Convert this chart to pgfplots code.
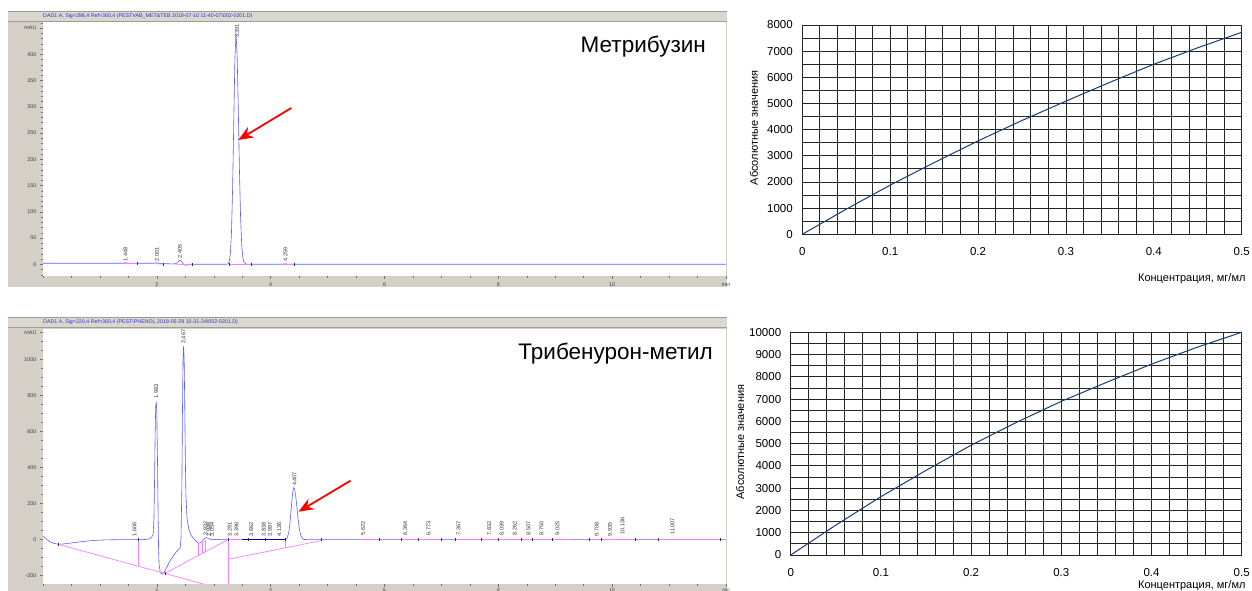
\documentclass[border=0pt]{standalone}
\usepackage{pgfplots}
\pgfplotsset{compat=1.18}
\usepackage{fontspec}
\setmainfont{Liberation Sans}
\usetikzlibrary{arrows.meta}
\definecolor{panel}{RGB}{212,208,200}
\definecolor{hdr}{RGB}{218,215,208}
\definecolor{hdrline}{RGB}{160,156,148}
\definecolor{trace}{RGB}{95,95,255}
\definecolor{integ}{RGB}{255,125,255}
\definecolor{hdrtext}{RGB}{50,50,210}
\definecolor{navyline}{RGB}{25,60,115}
\tikzset{lbl/.style={rotate=90, anchor=west, font=\fontsize{5.5}{6}\selectfont, inner sep=0.5pt, text=black!80}}
\pgfplotsset{
  chrom/.style={scale only axis, anchor=south west, xmin=0, xmax=12,
    axis background/.style={fill=white},
    axis line style={draw=none},
    tick align=outside, tick pos=left,
    major tick length=3pt, minor tick length=1.8pt,
    tick style={black!55, line width=0.5pt},
    xtick={2,4,6,8,10,12}, xticklabels={2,4,6,8,10,min},
    minor xtick={0,0.5,...,12},
    ticklabel style={font=\fontsize{5.4}{6}\selectfont, text=black!75},
    clip mode=individual},
  calib/.style={scale only axis, anchor=south west, xmin=0, xmax=0.5, ymin=0,
    scaled ticks=false,
    xtick={0,0.1,0.2,0.3,0.4,0.5}, xticklabels={0,0.1,0.2,0.3,0.4,0.5},
    minor x tick num=4, minor y tick num=1,
    grid=both, major grid style={black!85, line width=0.9pt},
    minor grid style={black!85, line width=0.9pt},
    major tick length=0pt, minor tick length=0pt,
    axis line style={black!85, line width=0.9pt},
    ticklabel style={font=\fontsize{11.5}{13}\selectfont},
    yticklabel style={xshift=-6pt},
    /pgf/number format/assume math mode=true,
    /pgf/number format/set thousands separator={},
    /pgf/number format/fixed,
    label style={font=\fontsize{11}{13}\selectfont},
    ylabel={Абсолютные значения}, xlabel={Концентрация, мг/мл}},
}
\begin{document}
\begin{tikzpicture}[x=1pt,y=1pt]
\useasboundingbox (0,0) rectangle (1252,591);
% ---------- top chromatogram panel ----------
\fill[panel] (8,304) rectangle (727,580);
\fill[hdr] (8,569) rectangle (727,580);
\draw[hdrline,line width=0.8pt] (8,569.4) -- (727,569.4);
\draw[hdrline,line width=0.8pt] (8,579.6) -- (727,579.6);
\node[anchor=west, text=hdrtext, font=\fontsize{5.3}{6}\selectfont, inner sep=0] at (43,574.5)
  {DAD1 A, Sig=298,4 Ref=360,4 (PESTVAB\_MET\&TEB 2019-07-10 11-40-07\textbackslash 002-0201.D)};
\begin{axis}[chrom, at={(43pt,315pt)}, width=683pt, height=254pt, ymin=-22.3, ymax=461.5,
  ytick={0,50,100,150,200,250,300,350,400,450},
  yticklabels={0,50,100,150,200,250,300,350,400,mAU},
  minor ytick={-20,-10,...,460}]
\addplot[trace, line width=0.6pt] coordinates {
(0,2) (0.5,2) (1.0,2) (1.40,2) (1.45,3) (1.50,2) (1.95,2) (2.0,3) (2.05,1.5) (2.2,1) (2.3,0.5)
(2.35,2) (2.38,6) (2.405,8) (2.43,6) (2.46,1) (2.5,-2) (2.53,-1) (2.56,0) (3.2,0)
(3.251,0.5) (3.271,4.9) (3.291,19.3) (3.311,59.5) (3.331,143) (3.351,267) (3.371,388) (3.391,440)
(3.411,399) (3.431,296) (3.451,181) (3.471,91) (3.491,37) (3.511,12.5) (3.531,3.5) (3.571,0.3)
(3.6,0) (4.2,0) (4.26,1) (4.3,0) (12,0)};
\addplot[integ, line width=0.7pt] coordinates {(1.41,1.5) (1.65,1.5)};
\addplot[integ, line width=0.7pt] coordinates {(1.97,1) (2.12,0.5)};
\addplot[integ, line width=0.7pt] coordinates {(2.33,0) (2.62,-1)};
\addplot[integ, line width=0.7pt] coordinates {(3.28,0) (3.66,0)};
\addplot[integ, line width=0.7pt] coordinates {(4.18,0.5) (4.42,0.5)};
\addplot[only marks, mark=|, mark size=1.5pt, black!80, mark options={line width=0.4pt}] coordinates {
(1.65,1.5) (2.12,0.5) (2.62,-1) (3.28,0) (3.66,0) (4.42,0)};
\node[lbl] at (axis cs:1.448,4) {1.448};
\node[lbl] at (axis cs:2.001,4) {2.001};
\node[lbl] at (axis cs:2.405,10) {2.405};
\node[lbl] at (axis cs:3.41,430) {3.391};
\node[lbl] at (axis cs:4.259,4) {4.259};
\draw[red, line width=1.8pt, -{Stealth[length=15pt,width=12pt]}] (axis cs:4.363,297.7) -- (axis cs:3.43,236.8);
\end{axis}
\node[anchor=base east, font=\fontsize{22.5}{24}\selectfont, inner sep=0] at (706,538.7) {Метрибузин};
% ---------- bottom chromatogram panel ----------
\fill[panel] (8,-5) rectangle (727,274);
\fill[hdr] (8,263) rectangle (727,274);
\draw[hdrline,line width=0.8pt] (8,263.4) -- (727,263.4);
\draw[hdrline,line width=0.8pt] (8,273.6) -- (727,273.6);
\node[anchor=west, text=hdrtext, font=\fontsize{5.3}{6}\selectfont, inner sep=0] at (43,268.5)
  {DAD1 A, Sig=220,4 Ref=360,4 (PEST\textbackslash PHENOL 2018-05-29 10-31-24\textbackslash 002-0201.D)};
\begin{axis}[chrom, at={(43pt,7pt)}, width=683pt, height=255pt, ymin=-246, ymax=1170,
  ytick={-200,0,200,400,600,800,1000,1150},
  yticklabels={-200,0,200,400,600,800,1000,mAU},
  minor ytick={-250,-200,...,1150},
  xticklabel style={yshift=2.6pt, font=\fontsize{4.6}{5}\selectfont}]
\addplot[trace, line width=0.6pt] coordinates {
(0,20) (0.05,6) (0.1,-7) (0.15,-16) (0.2,-21) (0.27,-25) (0.35,-24) (0.5,-18) (0.7,-10) (0.9,-4)
(1.1,-1) (1.3,0) (1.6,0) (1.8,1) (1.87,5) (1.91,15) (1.935,30) (1.95,120) (1.96,330) (1.97,580)
(1.98,740) (1.99,767) (2.0,700) (2.01,480) (2.02,200) (2.03,-40) (2.04,-140) (2.06,-182) (2.09,-192)
(2.13,-180) (2.18,-150) (2.23,-118) (2.28,-95) (2.33,-72) (2.38,-55) (2.41,-45) (2.425,10) (2.44,300)
(2.45,700) (2.46,1000) (2.47,1075) (2.48,1000) (2.49,760) (2.5,470) (2.51,260) (2.53,120) (2.56,60)
(2.6,25) (2.65,5) (2.7,-12) (2.74,-20) (2.79,-12) (2.83,5) (2.87,12) (2.92,4) (2.97,0) (3.05,2)
(3.1,0) (3.3,0) (3.4,1) (3.5,0) (4.25,0) (4.257,1) (4.287,8) (4.317,39) (4.332,72) (4.347,119)
(4.362,176) (4.377,232) (4.392,274) (4.407,290) (4.422,279) (4.437,250) (4.452,208) (4.467,160)
(4.482,114) (4.497,76) (4.512,47) (4.527,27) (4.557,7) (4.587,1.4) (4.65,0) (5.6,0) (5.62,2) (5.65,0)
(9.9,0) (9.93,3) (9.96,0) (10.12,0) (10.14,2) (10.16,0) (12,0)};
\addplot[integ, line width=0.7pt] coordinates {(0.27,-25.6) (2.84,-248)};
\addplot[integ, line width=0.7pt] coordinates {(1.67,0) (1.67,-146.8)};
\addplot[integ, line width=0.7pt] coordinates {(2.14,-187) (3.25,0)};
\addplot[integ, line width=0.7pt] coordinates {(2.727,-18) (2.727,-88)};
\addplot[integ, line width=0.7pt] coordinates {(2.80,0) (2.80,-76)};
\addplot[integ, line width=0.7pt] coordinates {(2.86,0) (2.86,-66)};
\addplot[integ, line width=0.7pt] coordinates {(3.25,0) (3.25,-250)};
\addplot[integ, line width=0.7pt] coordinates {(3.25,-109) (4.89,-5)};
\addplot[integ, line width=0.7pt] coordinates {(4.25,0) (4.25,-45.6)};
\addplot[integ, line width=0.7pt] coordinates {(3.25,0) (3.5,0)};
\addplot[blue!75!black, line width=0.9pt] coordinates {(3.5,0) (4.25,0)};
\addplot[integ, line width=0.7pt] coordinates {(5.55,0) (5.9,0)};
\addplot[integ, line width=0.7pt] coordinates {(6.3,0) (7.0,0)};
\addplot[integ, line width=0.7pt] coordinates {(7.25,0) (9.3,0)};
\addplot[integ, line width=0.7pt] coordinates {(9.6,0) (10.4,0)};
\addplot[integ, line width=0.7pt] coordinates {(10.8,0) (11.9,0)};
\addplot[only marks, mark=|, mark size=1.5pt, black!80, mark options={line width=0.4pt}] coordinates {
(0.27,-25) (1.67,0) (2.14,-187) (3.25,0) (3.6,0) (3.9,0) (4.25,0) (4.89,0) (5.9,0) (6.3,0) (6.6,0)
(7.0,0) (7.25,0) (7.7,0) (8.0,0) (8.4,0) (8.6,0) (8.95,0) (9.6,0) (9.8,0) (10.4,0) (10.8,0) (11.9,0)};
\node[lbl] at (axis cs:1.606,15) {1.606};
\node[lbl] at (axis cs:1.99,780) {1.983};
\node[lbl] at (axis cs:2.467,1085) {2.467};
\node[lbl] at (axis cs:2.855,20) {2.832};
\node[lbl] at (axis cs:2.91,15) {2.946};
\node[lbl] at (axis cs:2.97,15) {3.054};
\node[lbl] at (axis cs:3.28,15) {3.291};
\node[lbl] at (axis cs:3.40,15) {3.396};
\node[lbl] at (axis cs:3.66,15) {3.662};
\node[lbl] at (axis cs:3.88,15) {3.838};
\node[lbl] at (axis cs:3.99,15) {3.987};
\node[lbl] at (axis cs:4.15,15) {4.136};
\node[lbl] at (axis cs:4.42,295) {4.407};
\node[lbl] at (axis cs:5.622,20) {5.622};
\node[lbl] at (axis cs:6.364,20) {6.364};
\node[lbl] at (axis cs:6.773,20) {6.773};
\node[lbl] at (axis cs:7.30,20) {7.367};
\node[lbl] at (axis cs:7.84,20) {7.832};
\node[lbl] at (axis cs:8.06,20) {8.039};
\node[lbl] at (axis cs:8.29,20) {8.262};
\node[lbl] at (axis cs:8.53,20) {8.507};
\node[lbl] at (axis cs:8.76,20) {8.750};
\node[lbl] at (axis cs:9.04,20) {9.025};
\node[lbl] at (axis cs:9.73,15) {9.708};
\node[lbl] at (axis cs:9.96,15) {9.935};
\node[lbl] at (axis cs:10.18,25) {10.136};
\node[lbl] at (axis cs:11.06,25) {11.007};
\draw[red, line width=1.8pt, -{Stealth[length=15pt,width=12pt]}] (axis cs:5.404,327.8) -- (axis cs:4.49,155.6);
\end{axis}
\node[anchor=base east, font=\fontsize{22.5}{24}\selectfont, inner sep=0] at (713,231) {Трибенурон-метил};
% ---------- top calibration ----------
\begin{axis}[calib, at={(802.3pt,356.7pt)}, width=439.4pt, height=209.3pt, ymax=8000,
  ytick={0,1000,2000,3000,4000,5000,6000,7000,8000},
  xticklabel style={yshift=-9.4pt},
  ylabel style={at={(axis description cs:-0.110,0.508)}, anchor=center},
  xlabel style={at={(axis description cs:1.0166,-0.21)}, anchor=east}]
\addplot[navyline, line width=1pt] coordinates {
(0,0) (0.05,960) (0.1,1880) (0.15,2740) (0.2,3570) (0.25,4350) (0.3,5090) (0.35,5810)
(0.4,6500) (0.45,7130) (0.5,7720)};
\end{axis}
% ---------- bottom calibration ----------
\begin{axis}[calib, at={(790.7pt,36pt)}, width=451pt, height=222.7pt, ymax=10000,
  ytick={0,1000,2000,3000,4000,5000,6000,7000,8000,9000,10000},
  xticklabel style={yshift=-10.3pt},
  ylabel style={at={(axis description cs:-0.112,0.507)}, anchor=center},
  xlabel style={at={(axis description cs:1.0162,-0.139)}, anchor=east}]
\addplot[navyline, line width=1pt] coordinates {
(0,0) (0.05,1340) (0.1,2620) (0.15,3800) (0.2,4930) (0.25,5950) (0.3,6900) (0.35,7750)
(0.4,8570) (0.45,9320) (0.5,10000)};
\end{axis}
\end{tikzpicture}
\end{document}
